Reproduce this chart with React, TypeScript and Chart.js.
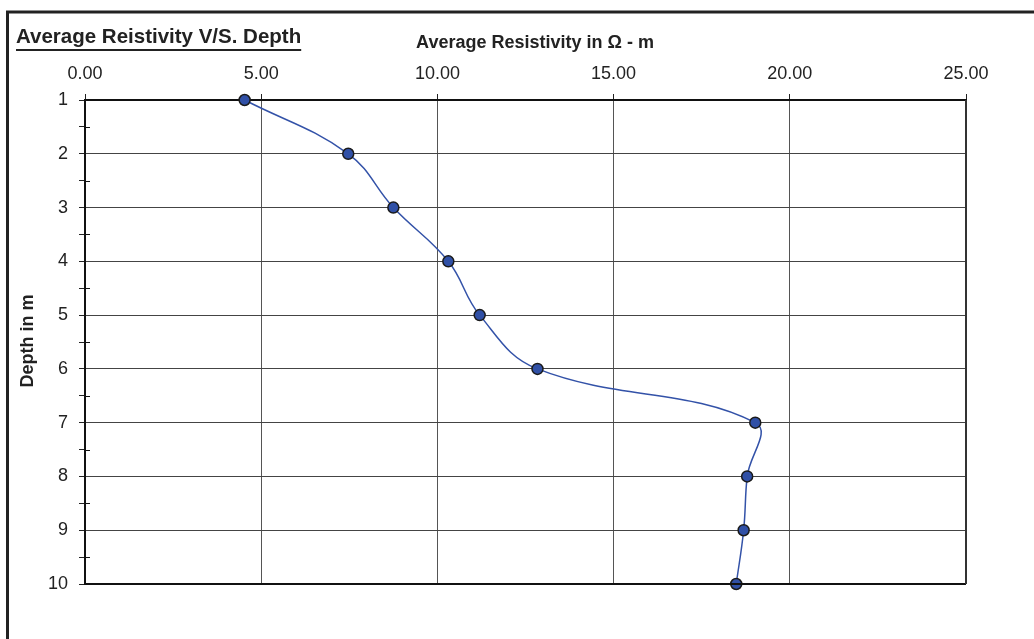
import React, { useEffect, useRef } from "react";
import { Chart, registerables } from "chart.js";

Chart.register(...registerables);

const depths = [1, 2, 3, 4, 5, 6, 7, 8, 9, 10];
const resistivity = [4.53, 7.47, 8.75, 10.31, 11.2, 12.84, 19.02, 18.79, 18.69, 18.48];
const xTicks = [0, 5, 10, 15, 20, 25];
const chartTitle = "Average Reistivity V/S. Depth";
const xTitle = "Average Resistivity in \u03A9 - m";
const yTitle = "Depth in m";

const FONT = '"Liberation Sans", Arial, sans-serif';

const decorPlugin = {
  id: "decor",
  afterDraw(chart: any) {
    const ctx = chart.ctx;
    const { left, right, top, bottom } = chart.chartArea;
    ctx.save();
    // outer frame (left and top only visible)
    ctx.strokeStyle = "#222";
    ctx.lineWidth = 3;
    ctx.beginPath();
    ctx.moveTo(7.5, 639);
    ctx.lineTo(7.5, 12);
    ctx.lineTo(1034, 12);
    ctx.stroke();

    // plot frame
    ctx.lineWidth = 2;
    ctx.strokeStyle = "#111";
    ctx.beginPath();
    ctx.moveTo(left, bottom);
    ctx.lineTo(right, bottom);
    ctx.stroke();
    ctx.strokeStyle = "#333";
    ctx.beginPath();
    ctx.moveTo(right, top);
    ctx.lineTo(right, bottom);
    ctx.stroke();

    // minor tick crossings on y axis
    const ys = chart.scales.y;
    ctx.strokeStyle = "#111";
    ctx.lineWidth = 1;
    for (let v = 1.5; v < 10; v += 1) {
      const py = Math.round(ys.getPixelForValue(v)) + 0.5;
      ctx.beginPath();
      ctx.moveTo(left, py);
      ctx.lineTo(left + 5, py);
      ctx.stroke();
    }

    // texts
    ctx.fillStyle = "#222";
    ctx.textBaseline = "alphabetic";
    ctx.textAlign = "left";
    ctx.font = `bold 20.5px ${FONT}`;
    ctx.fillText(chartTitle, 16, 43);
    const w = ctx.measureText(chartTitle).width;
    ctx.fillRect(16, 49, w, 2);

    ctx.textAlign = "center";
    ctx.font = `bold 18px ${FONT}`;
    ctx.fillText(xTitle, 535, 48);

    ctx.save();
    ctx.translate(28, 341);
    ctx.rotate(-Math.PI / 2);
    ctx.textBaseline = "middle";
    ctx.font = `bold 18px ${FONT}`;
    ctx.fillText(yTitle, 0, 0);
    ctx.restore();

    ctx.restore();
  },
};

export default function App() {
  const ref = useRef<HTMLCanvasElement>(null);
  useEffect(() => {
    document.body.style.margin = "0";
    const chart = new Chart(ref.current!, {
      type: "scatter",
      data: {
        datasets: [
          {
            data: depths.map((d, i) => ({ x: resistivity[i], y: d })),
            showLine: true,
            tension: 0.4,
            borderColor: "#3352A8",
            borderWidth: 1.5,
            pointRadius: 5.5,
            pointBackgroundColor: "#3050A6",
            pointBorderColor: "#1a1a1a",
            pointBorderWidth: 1.5,
            clip: false as any,
          },
        ],
      },
      options: {
        animation: false,
        responsive: false,
        maintainAspectRatio: false,
        layout: { padding: { left: 0, top: 0, right: 68, bottom: 55 } },
        plugins: { legend: { display: false }, tooltip: { enabled: false }, title: { display: false } },
        scales: {
          x: {
            type: "linear",
            position: "top",
            min: 0,
            max: 25,
            afterBuildTicks: (s: any) => {
              s.ticks = xTicks.map((v) => ({ value: v }));
            },
            afterFit: (s: any) => {
              s.height = 100;
            },
            ticks: {
              padding: 9,
              color: "#222",
              font: { family: FONT, size: 18 },
              callback: (v: any) => Number(v).toFixed(2),
            },
            grid: { color: "#555", lineWidth: 1, tickLength: 6, tickColor: "#222" },
            border: { display: true, color: "#111", width: 2 },
          },
          y: {
            type: "linear",
            reverse: true,
            min: 1,
            max: 10,
            afterBuildTicks: (s: any) => {
              const t: any[] = [];
              for (let v = 1; v <= 10.001; v += 0.5) t.push({ value: v });
              s.ticks = t;
            },
            afterFit: (s: any) => {
              s.width = 85;
            },
            ticks: {
              autoSkip: false,
              padding: 11,
              color: "#222",
              font: { family: FONT, size: 18 },
              callback: (v: any) => (Number.isInteger(Number(v)) ? String(v) : ""),
            },
            grid: {
              color: (c: any) => (Number.isInteger(c.tick?.value) ? "#444" : "rgba(0,0,0,0)"),
              lineWidth: 1,
              tickLength: 6,
              tickColor: "#222",
            },
            border: { display: true, color: "#111", width: 2 },
          },
        },
      },
      plugins: [decorPlugin],
    });
    return () => chart.destroy();
  }, []);
  return <canvas ref={ref} width={1034} height={639} style={{ display: "block" }} />;
}
